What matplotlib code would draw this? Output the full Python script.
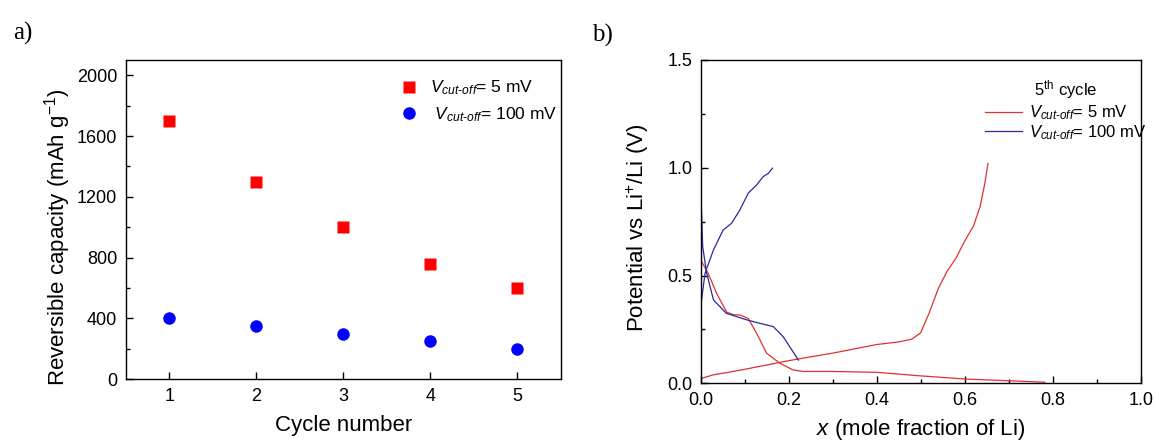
import matplotlib
matplotlib.use("Agg")
import matplotlib.pyplot as plt
from matplotlib.ticker import MultipleLocator

# FONT
plt.rcParams['font.family'] = 'Liberation Sans'
plt.rcParams['mathtext.fontset'] = 'custom'
plt.rcParams['mathtext.rm'] = 'Liberation Sans'
plt.rcParams['mathtext.it'] = 'Liberation Sans:italic'
plt.rcParams['axes.linewidth'] = 1.0
plt.rcParams['xtick.direction'] = 'in'
plt.rcParams['ytick.direction'] = 'in'
plt.rcParams['xtick.labelsize'] = 13
plt.rcParams['ytick.labelsize'] = 13
plt.rcParams['xtick.major.pad'] = 6
plt.rcParams['ytick.major.pad'] = 6

# panel a data
cycles = [1, 2, 3, 4, 5]
cap_5mV = [1700, 1300, 1000, 755, 600]
cap_100mV = [400, 350, 300, 250, 200]

# panel b data (5th cycle voltage profiles)
red_dis_x = [0.0, 0.017, 0.036, 0.059, 0.075, 0.089, 0.108, 0.127, 0.15, 0.18, 0.21, 0.233,
             0.3, 0.4, 0.49, 0.6, 0.7, 0.782]
red_dis_y = [0.572, 0.51, 0.418, 0.33, 0.318, 0.317, 0.301, 0.232, 0.139, 0.093, 0.062, 0.055,
             0.055, 0.051, 0.036, 0.02, 0.012, 0.005]
red_chg_x = [0.0, 0.03, 0.06, 0.1, 0.15, 0.2, 0.25, 0.3, 0.35, 0.4, 0.45, 0.48, 0.5, 0.52,
             0.54, 0.56, 0.58, 0.6, 0.62, 0.635, 0.645, 0.653]
red_chg_y = [0.022, 0.04, 0.05, 0.065, 0.085, 0.105, 0.123, 0.14, 0.16, 0.18, 0.192, 0.205,
             0.235, 0.33, 0.44, 0.52, 0.58, 0.66, 0.73, 0.82, 0.92, 1.02]
blue_dis_x = [0.0, 0.002, 0.0045, 0.0136, 0.029, 0.058, 0.105, 0.135, 0.165, 0.1875, 0.207, 0.222]
blue_dis_y = [0.897, 0.789, 0.634, 0.51, 0.387, 0.325, 0.294, 0.278, 0.263, 0.216, 0.155, 0.108]
blue_chg_x = [0.0, 0.0098, 0.029, 0.051, 0.07, 0.089, 0.108, 0.127, 0.142, 0.154, 0.163]
blue_chg_y = [0.356, 0.51, 0.619, 0.711, 0.742, 0.804, 0.882, 0.92, 0.959, 0.974, 0.998]

lab5 = r'$V_{cut\text{-}off}$= 5 mV'
lab100 = r' $V_{cut\text{-}off}$= 100 mV'

fig = plt.figure(figsize=(11.54, 4.41), dpi=100)

# ---- panel a
ax1 = fig.add_axes([0.1089, 0.1399, 0.3770, 0.7241])
ax1.plot(cycles, cap_5mV, 's', color='#ff0000', ms=8, mec='none', label=lab5)
ax1.plot(cycles, cap_100mV, 'o', color='#0000ff', ms=9, mec='none', label=lab100)
ax1.set_xlim(0.5, 5.5)
ax1.set_ylim(0, 2100)
ax1.set_xticks(cycles)
ax1.yaxis.set_major_locator(MultipleLocator(400))
ax1.yaxis.set_minor_locator(MultipleLocator(200))
ax1.tick_params(which='major', length=5, width=1)
ax1.tick_params(which='minor', length=3, width=1)
ax1.set_xlabel('Cycle number', fontsize=16)
ax1.xaxis.set_label_coords(0.5, -0.112)
ax1.set_ylabel(r'Reversible capacity (mAh g$^{-1}$)', fontsize=16)
ax1.yaxis.set_label_coords(-0.12, 0.445)
ax1.legend(loc='upper left', bbox_to_anchor=(0.6, 0.985), frameon=False, fontsize=12.5,
           handletextpad=0.7, labelspacing=0.45, handlelength=1.0, borderpad=0.3)
fig.text(0.02, 0.925, 'a)', fontsize=18, family='Liberation Serif', va='center', ha='center')

# ---- panel b
ax2 = fig.add_axes([0.6072, 0.1308, 0.3813, 0.7333])
ax2.plot(red_dis_x, red_dis_y, color='#e03030', lw=0.9, label=lab5.strip())
ax2.plot(red_chg_x, red_chg_y, color='#e03030', lw=0.9)
ax2.plot(blue_dis_x, blue_dis_y, color='#2a2a9a', lw=0.9, label=lab100.strip())
ax2.plot(blue_chg_x, blue_chg_y, color='#2a2a9a', lw=0.9)
ax2.set_xlim(0, 1.0)
ax2.set_ylim(0, 1.5)
ax2.xaxis.set_major_locator(MultipleLocator(0.2))
ax2.xaxis.set_minor_locator(MultipleLocator(0.1))
ax2.yaxis.set_major_locator(MultipleLocator(0.5))
ax2.yaxis.set_minor_locator(MultipleLocator(0.25))
ax2.tick_params(which='major', length=5, width=1)
ax2.tick_params(which='minor', length=3, width=1)
ax2.set_xlabel(r'$x$ (mole fraction of Li)', fontsize=16)
ax2.xaxis.set_label_coords(0.5, -0.105)
ax2.set_ylabel(r'Potential vs Li$^{+}$/Li (V)', fontsize=16)
ax2.yaxis.set_label_coords(-0.113, 0.48)
leg = ax2.legend(loc='upper left', bbox_to_anchor=(0.62, 0.98), frameon=False, fontsize=12,
                 title=r'5$^{\rm th}$ cycle', title_fontsize=12, handlelength=2.2,
                 handletextpad=0.4, labelspacing=0.05, borderpad=0.2)
leg._legend_box.align = 'center'
leg._legend_box.sep = 2
fig.text(0.522, 0.92, 'b)', fontsize=18, family='Liberation Serif', va='center', ha='center')

fig.savefig('out.png', dpi=100)
